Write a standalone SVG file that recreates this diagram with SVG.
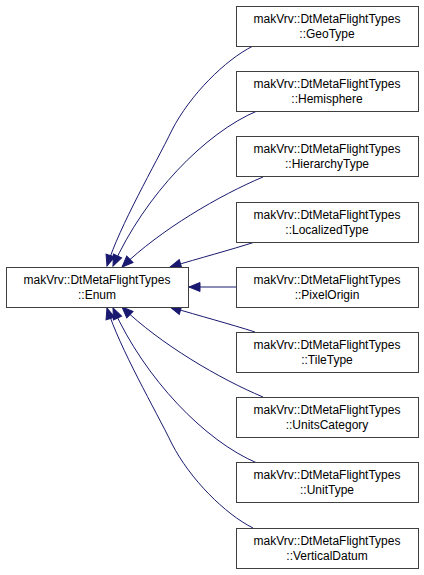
<svg xmlns="http://www.w3.org/2000/svg" width="424" height="575" viewBox="0 0 424 575">
<defs>
<style>
.box{fill:#fff;stroke:#404040;stroke-width:1}
.t{font-family:"Liberation Sans",Arial,sans-serif;font-size:12px;fill:#000;text-anchor:middle}
.e{fill:none;stroke:#191970;stroke-width:1;marker-end:url(#ah)}
</style>
<marker id="ah" markerWidth="14" markerHeight="12" refX="11" refY="4.5" orient="auto" markerUnits="userSpaceOnUse" style="overflow:visible">
<path d="M0,0 L11,4.5 L0,9 Z" fill="#191970" stroke="#191970"/>
</marker>
</defs>
<rect width="424" height="575" fill="#fff"/>
<g id="connectors">
<path class="e" d="M253,46 C225,60 190,95 172,130 C155,165 120,225 107,266"/>
<path class="e" d="M257,111 C205,133 145,195 113,266"/>
<path class="e" d="M263,177 C220,195 160,230 122,267"/>
<path class="e" d="M255,242 C230,250 200,258 170,267"/>
<path class="e" d="M236,287 L189,287"/>
<path class="e" d="M255,332 C230,324 200,316 170,307"/>
<path class="e" d="M263,397 C220,379 160,344 122,307"/>
<path class="e" d="M257,463 C205,441 145,379 113,308"/>
<path class="e" d="M253,528 C225,514 190,479 172,444 C155,409 120,349 107,308"/>
</g>
<g id="enum">
<rect class="box" x="6.5" y="267.5" width="182" height="40"/>
<text class="t" x="97" y="284">makVrv::DtMetaFlightTypes</text>
<text class="t" x="97" y="299">::Enum</text>
</g>
<g id="geotype">
<rect class="box" x="236.5" y="6.5" width="182" height="40"/>
<text class="t" x="327" y="22.5">makVrv::DtMetaFlightTypes</text>
<text class="t" x="327" y="37.5">::GeoType</text>
</g>
<g id="hemisphere">
<rect class="box" x="236.5" y="71.5" width="182" height="40"/>
<text class="t" x="327" y="87.5">makVrv::DtMetaFlightTypes</text>
<text class="t" x="327" y="102.5">::Hemisphere</text>
</g>
<g id="hierarchytype">
<rect class="box" x="236.5" y="136.5" width="182" height="40"/>
<text class="t" x="327" y="152.5">makVrv::DtMetaFlightTypes</text>
<text class="t" x="327" y="167.5">::HierarchyType</text>
</g>
<g id="localizedtype">
<rect class="box" x="236.5" y="202.5" width="182" height="40"/>
<text class="t" x="327" y="218.5">makVrv::DtMetaFlightTypes</text>
<text class="t" x="327" y="233.5">::LocalizedType</text>
</g>
<g id="pixelorigin">
<rect class="box" x="236.5" y="267.5" width="182" height="40"/>
<text class="t" x="327" y="283.5">makVrv::DtMetaFlightTypes</text>
<text class="t" x="327" y="298.5">::PixelOrigin</text>
</g>
<g id="tiletype">
<rect class="box" x="236.5" y="332.5" width="182" height="40"/>
<text class="t" x="327" y="348.5">makVrv::DtMetaFlightTypes</text>
<text class="t" x="327" y="363.5">::TileType</text>
</g>
<g id="unitscategory">
<rect class="box" x="236.5" y="397.5" width="182" height="40"/>
<text class="t" x="327" y="413.5">makVrv::DtMetaFlightTypes</text>
<text class="t" x="327" y="428.5">::UnitsCategory</text>
</g>
<g id="unittype">
<rect class="box" x="236.5" y="462.5" width="182" height="40"/>
<text class="t" x="327" y="478.5">makVrv::DtMetaFlightTypes</text>
<text class="t" x="327" y="493.5">::UnitType</text>
</g>
<g id="verticaldatum">
<rect class="box" x="236.5" y="528.5" width="182" height="40"/>
<text class="t" x="327" y="544.5">makVrv::DtMetaFlightTypes</text>
<text class="t" x="327" y="559.5">::VerticalDatum</text>
</g>
</svg>
